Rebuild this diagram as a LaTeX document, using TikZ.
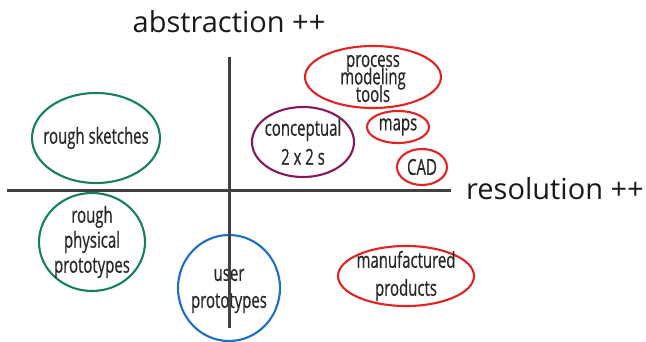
\documentclass[tikz,border=0pt]{standalone}
\usepackage{fontspec}
\setmainfont{Open Sans}
\newfontfamily\narrowfont[FakeStretch=0.68, FakeBold=0.5]{Open Sans}
\usetikzlibrary{shapes.geometric}
\definecolor{axisgray}{RGB}{65,65,65}
\definecolor{roughgreen}{RGB}{22,128,88}
\definecolor{userblue}{RGB}{30,110,195}
\definecolor{conceptpurple}{RGB}{135,25,90}
\definecolor{finalred}{RGB}{225,35,35}
\tikzstyle{blob} = [ellipse, draw, line width=2.1pt, inner sep=0pt]
\tikzstyle{txt} = [align=center, inner sep=0pt, text=black!85, font=\narrowfont\fontsize{22}{27}\selectfont]
\tikzstyle{axis} = [draw, line width=3pt, color=axisgray]
\tikzstyle{axislabel} = [inner sep=0pt, text=black!90, font=\fontsize{29}{30}\selectfont]

\begin{document}
\begin{tikzpicture}[x=1pt, y=-1pt]
        \useasboundingbox (0,0) rectangle (646,342);
        % Nodes
        \node (sketch) [blob, draw=roughgreen, minimum width=128pt, minimum height=90pt] at (96,138) {};
        \node (sketchtxt) [txt] at (sketch) {rough sketches};
        \node (phys) [blob, draw=roughgreen, minimum width=106pt, minimum height=98pt] at (92,242) {};
        \node (phystxt) [txt, font=\narrowfont\fontsize{22}{25}\selectfont] at (phys) {rough\\physical\\prototypes};
        \node (user) [blob, draw=userblue, minimum width=102pt, minimum height=106pt] at (229,288) {};
        \node (usertxt) [txt] at ([yshift=-3pt]user.center) {user\\prototypes};
        \node (concept) [blob, draw=conceptpurple, minimum width=102pt, minimum height=70pt] at (303,142) {};
        \node (concepttxt) [txt, font=\narrowfont\fontsize{22}{29}\selectfont] at (concept) {conceptual\\2 x 2 s};
        \node (process) [blob, draw=finalred, minimum width=136pt, minimum height=62pt] at (373,77) {};
        \node (processtxt) [txt, font=\narrowfont\fontsize{22}{17.5}\selectfont] at ([yshift=-1.5pt]process.center) {process\\\smash{modeling}\\tools};
        \node (maps) [blob, draw=finalred, minimum width=62pt, minimum height=32pt] at (398,127) {};
        \node (mapstxt) [txt] at (maps) {maps};
        \node (cad) [blob, draw=finalred, minimum width=50pt, minimum height=36pt] at (422,167) {};
        \node (cadtxt) [txt] at (cad) {CAD};
        \node (manuf) [blob, draw=finalred, minimum width=136pt, minimum height=60pt] at (406,276) {};
        \node (manuftxt) [txt, font=\narrowfont\fontsize{22}{28}\selectfont] at (manuf) {manufactured\\products};
        % Axes
        \coordinate (xleft) at (7,191);
        \coordinate (xright) at (451,191);
        \coordinate (ytop) at (229,57);
        \coordinate (ybottom) at (229,328);
        \path [axis] (xleft) -- (xright);
        \path [axis] (ytop) -- (ybottom);
        \node (abstr) [axislabel] at (229,22) {abstraction ++};
        \node (resol) [axislabel, anchor=west] at (466,189) {resolution ++};
\end{tikzpicture}
\end{document}
